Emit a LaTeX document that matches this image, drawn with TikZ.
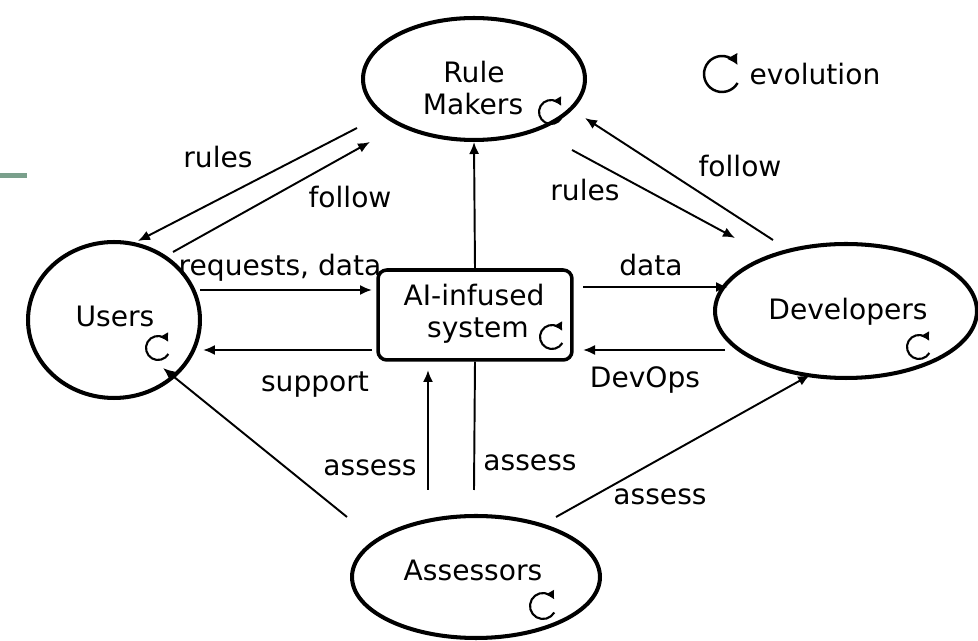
\documentclass[tikz,border=0pt]{standalone}
\usepackage{fontspec}
\setmainfont{DejaVu Sans}
\usetikzlibrary{arrows.meta,shapes.geometric}
\definecolor{accentgreen}{RGB}{122,160,140}
\begin{document}
\begin{tikzpicture}[x=0.02cm,y=-0.02cm,
  actor/.style={draw, ellipse, line width=2.3pt, inner sep=0pt},
  sysbox/.style={draw, rectangle, rounded corners=5pt, line width=2pt, inner sep=0pt},
  lbl/.style={font=\fontsize{16}{19}\selectfont, inner sep=0pt},
  arr/.style={line width=1.1pt, -{Latex[length=2.4mm,width=2mm]}},
  plain/.style={line width=1.1pt},
  evo/.style={line width=1.2pt, -{Latex[length=1.7mm,width=2mm]}},
  evobig/.style={line width=1.4pt, -{Latex[length=2.1mm,width=2.5mm]}},
]
\useasboundingbox (0,0) rectangle (978,641);

% decorative green bar
\draw[accentgreen, line width=0.1cm] (0,176) -- (27,176);

% main nodes
\node[actor, minimum width=4.44cm, minimum height=2.44cm] (rm) at (474,79) {};
\node[actor, minimum width=3.44cm, minimum height=3.12cm] (users) at (114,320) {};
\node[actor, minimum width=5.24cm, minimum height=2.68cm] (dev) at (846,311) {};
\node[actor, minimum width=4.96cm, minimum height=2.44cm] (ass) at (476,577) {};
\node[sysbox, minimum width=3.88cm, minimum height=1.8cm] (ai) at (475,315) {};

% node texts
\node[lbl] (rmt1) at (474,72) {Rule};
\node[lbl] (rmt2) at (473,104) {Makers};
\node[lbl] (userst) at (115,316) {Users};
\node[lbl] (devt) at (848,312) {Developers};
\node[lbl] (asst) at (473,570) {Assessors};
\node[lbl] (ait1) at (474,295) {AI-infused};
\node[lbl] (ait2) at (478,331) {system};

% evolution icons
\draw[evo] (551,112) ++(30:12) arc[start angle=30, end angle=330, radius=12];
\draw[evo] (158,348) ++(30:12) arc[start angle=30, end angle=330, radius=12];
\draw[evo] (552,337) ++(30:12) arc[start angle=30, end angle=330, radius=12];
\draw[evo] (919,347) ++(30:12) arc[start angle=30, end angle=330, radius=12];
\draw[evo] (543,606) ++(30:13) arc[start angle=30, end angle=330, radius=13];

% legend
\draw[evobig] (722,74) ++(30:18) arc[start angle=30, end angle=330, radius=18];
\node[lbl] (legend) at (815,74) {evolution};

% connector end points
\coordinate (a1s) at (357,128); \coordinate (a1e) at (138,241);
\coordinate (a2s) at (173,252); \coordinate (a2e) at (370,142);
\coordinate (a4s) at (572,150); \coordinate (a4e) at (735,238);
\coordinate (a5s) at (773,240); \coordinate (a5e) at (585,118);
\coordinate (a6s) at (200,290); \coordinate (a6e) at (372,290);
\coordinate (a7s) at (372,350); \coordinate (a7e) at (203,350);
\coordinate (a8s) at (583,287); \coordinate (a8e) at (728,287);
\coordinate (a9s) at (725,350); \coordinate (a9e) at (583,350);
\coordinate (a10s) at (428,490); \coordinate (a10e) at (428,370);
\coordinate (a11e) at (474,490);
\coordinate (a12s) at (347,517); \coordinate (a12e) at (163,368);
\coordinate (a13s) at (556,517); \coordinate (a13e) at (810,375);

% connectors
\draw[arr] (a1s) -- (a1e);
\draw[arr] (a2s) -- (a2e);
\draw[arr] (ai.north) -- (rm.south);
\draw[arr] (a4s) -- (a4e);
\draw[arr] (a5s) -- (a5e);
\draw[arr] (a6s) -- (a6e);
\draw[arr] (a7s) -- (a7e);
\draw[arr] (a8s) -- (a8e);
\draw[arr] (a9s) -- (a9e);
\draw[arr] (a10s) -- (a10e);
\draw[plain] (ai.south) -- (a11e);
\draw[arr] (a12s) -- (a12e);
\draw[arr] (a13s) -- (a13e);

% connector labels
\node[lbl] (l1) at (218,157) {rules};
\node[lbl] (l2) at (350,197) {follow};
\node[lbl] (l4) at (585,190) {rules};
\node[lbl] (l5) at (740,166) {follow};
\node[lbl] (l6) at (280,268) {requests, data};
\node[lbl] (l7) at (315,385) {support};
\node[lbl] (l8) at (651,265) {data};
\node[lbl] (l9) at (645,380) {DevOps};
\node[lbl] (l10) at (370,468) {assess};
\node[lbl] (l11) at (530,463) {assess};
\node[lbl] (l13) at (660,497) {assess};
\end{tikzpicture}
\end{document}
